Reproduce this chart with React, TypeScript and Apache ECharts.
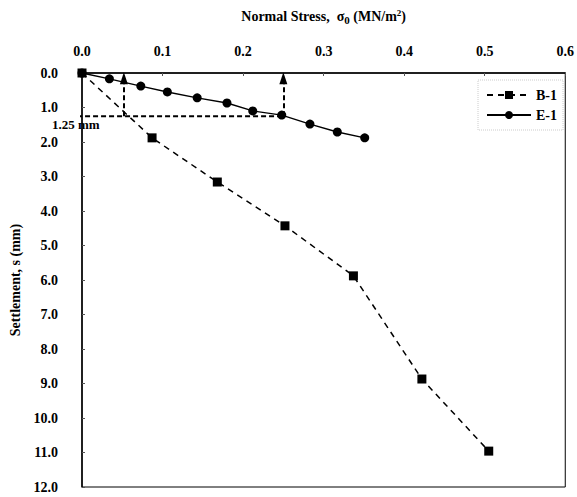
import React, { useEffect, useRef } from "react";
import * as echarts from "echarts";

const stressTicks = [0, 0.1, 0.2, 0.3, 0.4, 0.5, 0.6];
const b1Stress = [0, 0.087, 0.168, 0.252, 0.337, 0.422, 0.505];
const b1Settle = [0, 1.88, 3.16, 4.43, 5.88, 8.87, 10.96];
const e1Stress = [0, 0.034, 0.073, 0.106, 0.143, 0.18, 0.212, 0.248, 0.283, 0.317, 0.351];
const e1Settle = [0, 0.17, 0.38, 0.55, 0.72, 0.87, 1.1, 1.22, 1.48, 1.71, 1.88];
const refSettle = 1.25;
const refStressLeft = -0.026;
const refStressRight = 0.25;
const arrowStress = [0.052, 0.25];

const FONT = "'Liberation Serif', 'Times New Roman', serif";

export default function App() {
  const ref = useRef<HTMLDivElement>(null);
  useEffect(() => {
    if (!ref.current) return;
    const chart = echarts.init(ref.current, null, { renderer: "svg" });
    const labelStyle = { fontFamily: FONT, fontWeight: "bold" as const, fontSize: 14, color: "#000" };
    chart.setOption({
      animation: false,
      backgroundColor: "#fff",
      grid: { left: 74, top: 73, width: 492, height: 414, show: true, borderColor: "#000", borderWidth: 1 },
      xAxis: {
        type: "value",
        position: "top",
        min: stressTicks[0],
        max: stressTicks[stressTicks.length - 1],
        interval: 0.1,
        name: "Normal Stress,  σ{sub|0} (MN/m{sup|2})",
        nameLocation: "middle",
        nameGap: 48,
        nameTextStyle: {
          fontFamily: FONT, fontWeight: "bold", fontSize: 14, color: "#000",
          rich: {
            sub: { fontFamily: FONT, fontWeight: "bold", fontSize: 11, color: "#000", verticalAlign: "bottom", padding: [4, 0, 0, 0] },
            sup: { fontFamily: FONT, fontWeight: "bold", fontSize: 9, color: "#000", verticalAlign: "top", padding: [0, 0, 8, 0] },
          },
        },
        axisLine: { lineStyle: { color: "#000", width: 1.5 } },
        axisTick: { show: true, inside: true, length: 3, lineStyle: { color: "#555" } },
        axisLabel: { ...labelStyle, margin: 15, formatter: (v: number) => v.toFixed(1) },
        splitLine: { show: false },
      },
      yAxis: {
        type: "value",
        inverse: true,
        min: 0,
        max: 12,
        interval: 1,
        name: "Settlement, s (mm)",
        nameLocation: "middle",
        nameGap: 60,
        nameRotate: 90,
        nameTextStyle: { fontFamily: FONT, fontWeight: "bold", fontSize: 14, color: "#000" },
        axisLine: { lineStyle: { color: "#000", width: 1.5 } },
        axisTick: { show: true, inside: true, length: 3, lineStyle: { color: "#555" } },
        axisLabel: { ...labelStyle, margin: 24, formatter: (v: number) => v.toFixed(1) },
        splitLine: { show: false },
      },
      legend: {
        orient: "vertical",
        right: 14,
        top: 80,
        itemWidth: 44,
        itemHeight: 10,
        itemGap: 6,
        padding: [8, 6, 8, 8],
        borderColor: "#ccc",
        borderWidth: 1,
        borderType: "dotted",
        textStyle: { fontFamily: FONT, fontWeight: "bold", fontSize: 14, color: "#000" },
        data: ["B-1", "E-1"],
      },
      graphic: [
        {
          type: "text",
          left: 52,
          top: 118,
          style: { text: "1.25 mm", fontFamily: FONT, fontWeight: "bold", fontSize: 13, fill: "#000" },
          z: 10,
        },
      ],
      series: [
        {
          name: "B-1",
          type: "line",
          data: b1Stress.map((x, i) => [x, b1Settle[i]]),
          symbol: "rect",
          symbolSize: 9,
          itemStyle: { color: "#000" },
          lineStyle: { color: "#000", width: 1.5, type: [6, 5] },
          z: 3,
        },
        {
          name: "E-1",
          type: "line",
          data: e1Stress.map((x, i) => [x, e1Settle[i]]),
          symbol: "circle",
          symbolSize: 9,
          itemStyle: { color: "#000" },
          lineStyle: { color: "#000", width: 1.4, type: "solid" },
          z: 3,
        },
        {
          name: "ref",
          type: "line",
          clip: false,
          silent: true,
          data: [[refStressLeft, refSettle], [refStressRight, refSettle]],
          symbol: "none",
          lineStyle: { color: "#000", width: 2, type: [5, 3] },
          z: 2,
          markLine: {
            silent: true,
            symbol: ["none", "triangle"],
            symbolSize: [8, 12],
            label: { show: false },
            lineStyle: { color: "#000", width: 2, type: [5, 3] },
            data: arrowStress.map((s) => [
              { coord: [s, refSettle] },
              { coord: [s, 0.15] },
            ]),
          },
        },
      ],
    });
    return () => chart.dispose();
  }, []);
  return (
    <div
      ref={ref}
      style={{ position: "fixed", left: 0, top: 0, width: 577, height: 497, background: "#fff" }}
    />
  );
}
